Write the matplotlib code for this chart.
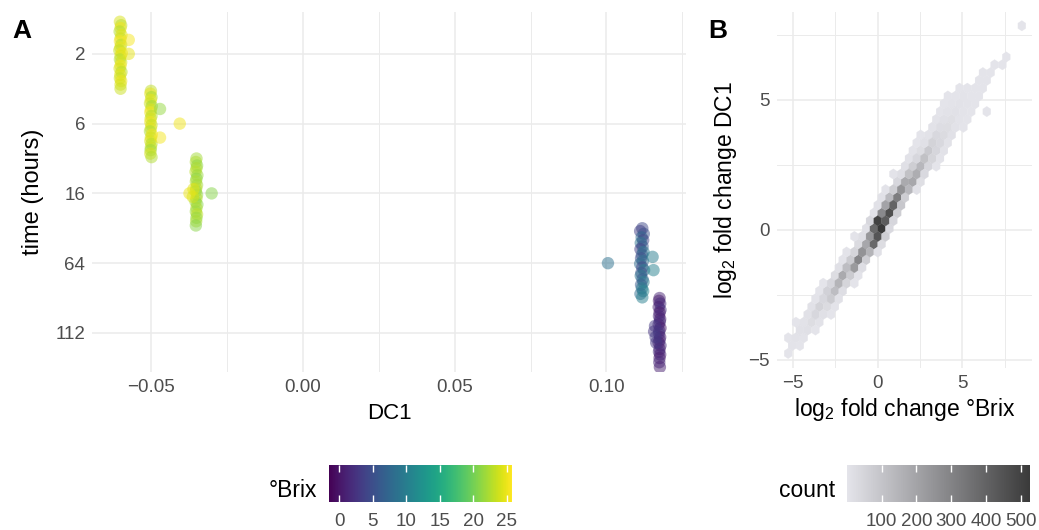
import numpy as np
import matplotlib
matplotlib.use('Agg')
import matplotlib.pyplot as plt
from matplotlib.colors import Normalize, LinearSegmentedColormap
from matplotlib.cm import ScalarMappable

plt.rcParams['font.family'] = ['Liberation Sans', 'DejaVu Sans']
plt.rcParams['mathtext.fontset'] = 'custom'
plt.rcParams['mathtext.rm'] = 'Liberation Sans'

# ---- panel A data: DC1 per sample, grouped by time point ----
time_levels = ['2', '6', '16', '64', '112']

pt_time = (['2'] * 24 + ['6'] * 25 + ['16'] * 25 + ['64'] * 27 + ['112'] * 27)
pt_dc1 = [
    # 2 h
    -0.0602, -0.0598, -0.0600, -0.0603, -0.0597, -0.0600, -0.0602, -0.0598,
    -0.0601, -0.0604, -0.0596, -0.0600, -0.0602, -0.0598, -0.0600, -0.0603,
    -0.0597, -0.0601, -0.0602, -0.0598, -0.0600, -0.0600, -0.0573, -0.0573,
    # 6 h
    -0.0500, -0.0502, -0.0498, -0.0500, -0.0503, -0.0497, -0.0500, -0.0502,
    -0.0498, -0.0501, -0.0502, -0.0498, -0.0500, -0.0503, -0.0497, -0.0500,
    -0.0502, -0.0498, -0.0500, -0.0501, -0.0502, -0.0498, -0.0470, -0.0405,
    -0.0470,
    # 16 h
    -0.0350, -0.0352, -0.0348, -0.0350, -0.0353, -0.0347, -0.0350, -0.0352,
    -0.0348, -0.0351, -0.0352, -0.0348, -0.0350, -0.0353, -0.0347, -0.0350,
    -0.0352, -0.0348, -0.0350, -0.0351, -0.0352, -0.0360, -0.0362, -0.0373,
    -0.0300,
    # 64 h
    0.1118, 0.1111, 0.1123, 0.1116, 0.1121, 0.1113, 0.1119, 0.1112, 0.1122,
    0.1117, 0.1114, 0.1120, 0.1111, 0.1118, 0.1124, 0.1115, 0.1113, 0.1119,
    0.1122, 0.1114, 0.1117, 0.1121, 0.1112, 0.1118, 0.1005, 0.1152, 0.1155,
    # 112 h
    0.1175, 0.1173, 0.1177, 0.1172, 0.1178, 0.1175, 0.1173, 0.1177, 0.1176,
    0.1172, 0.1178, 0.1174, 0.1173, 0.1177, 0.1175, 0.1172, 0.1178, 0.1175,
    0.1173, 0.1177, 0.1175, 0.1174, 0.1176, 0.1160, 0.1157, 0.1162, 0.1164,
]
pt_jitter = [
    # 2 h
    -0.46, -0.41, -0.37, -0.32, -0.27, -0.22, -0.18, -0.13, -0.09, -0.05,
    -0.01, 0.03, 0.08, 0.12, 0.17, 0.21, 0.26, 0.30, 0.35, 0.39, 0.44, 0.50,
    -0.20, 0.00,
    # 6 h
    -0.47, -0.43, -0.38, -0.34, -0.29, -0.25, -0.20, -0.16, -0.11, -0.07,
    -0.02, 0.02, 0.07, 0.11, 0.16, 0.20, 0.25, 0.29, 0.34, 0.38, 0.43, 0.48,
    -0.21, 0.00, 0.20,
    # 16 h
    -0.50, -0.45, -0.40, -0.36, -0.31, -0.26, -0.21, -0.17, -0.12, -0.07,
    -0.03, 0.02, 0.07, 0.12, 0.16, 0.21, 0.26, 0.30, 0.35, 0.40, 0.46,
    -0.06, 0.05, 0.00, 0.00,
    # 64 h
    -0.50, -0.46, -0.42, -0.37, -0.33, -0.29, -0.24, -0.20, -0.16, -0.12,
    -0.07, -0.03, 0.01, 0.06, 0.10, 0.14, 0.18, 0.23, 0.27, 0.31, 0.36,
    0.40, 0.44, 0.49, 0.00, -0.09, 0.10,
    # 112 h
    -0.50, -0.46, -0.42, -0.37, -0.33, -0.29, -0.24, -0.20, -0.16, -0.12,
    -0.07, -0.03, 0.01, 0.06, 0.10, 0.14, 0.18, 0.23, 0.27, 0.31, 0.36,
    0.42, 0.49, -0.10, -0.02, 0.06, 0.14,
]
pt_brix = [
    # 2 h
    24.1, 23.0, 25.2, 22.5, 24.6, 23.8, 25.5, 22.8, 24.9, 23.3, 25.1, 24.4,
    22.6, 23.9, 25.3, 24.0, 22.9, 24.7, 23.5, 25.0, 24.2, 23.6, 25.4, 24.8,
    # 6 h
    23.2, 24.8, 22.1, 25.0, 23.7, 21.9, 24.5, 25.3, 22.7, 24.0, 25.1, 23.4,
    24.6, 22.3, 25.2, 23.9, 24.3, 22.8, 23.6, 21.8, 24.1, 22.5, 21.5, 25.2,
    25.3,
    # 16 h
    22.0, 22.6, 21.3, 22.4, 23.0, 21.7, 21.2, 22.5, 22.1, 23.2, 21.6, 21.4,
    22.8, 22.0, 21.1, 22.6, 21.8, 23.1, 21.5, 22.3, 21.0, 24.6, 24.0, 25.0,
    20.8,
    # 64 h
    4.5, 3.8, 5.2, 7.5, 4.0, 8.8, 5.8, 3.6, 9.2, 6.5, 4.8, 8.2, 7.8, 4.2,
    9.5, 5.1, 8.9, 6.3, 10.0, 6.2, 9.5, 10.8, 8.1, 10.2, 8.6, 10.0, 10.4,
    # 112 h
    1.2, 0.4, 1.8, 0.9, 2.3, 0.1, 1.5, 0.7, 2.0, 1.1, 0.3, 1.7, 2.5, 0.8, 1.3,
    0.2, 1.9, 0.6, 2.2, 1.0, 0.5, 1.6, 0.9, 3.0, 2.6, 3.2, 2.8,
]

# ---- panel B data: hexbin cells (log2 FC Brix, log2 FC DC1, gene count) ----
hex_brix = [
    -5.29,
    -5.06, -4.60,
    -5.29, -4.83, -4.37,
    -4.60, -4.14, -3.68,
    -4.83, -4.37, -3.91, -3.45,
    -4.14, -3.68, -3.22, -2.76,
    -3.91, -3.45, -2.99, -2.53,
    -3.68, -3.22, -2.76, -2.30,
    -3.45, -2.99, -2.53, -2.07,
    -3.22, -2.76, -2.30, -1.84, -1.38,
    -2.53, -2.07, -1.61, -1.15,
    -2.30, -1.84, -1.38, -0.92,
    -2.07, -1.61, -1.15, -0.69,
    -1.84, -1.38, -0.92, -0.46, 0.00,
    -1.15, -0.69, -0.23, 0.23,
    -1.38, -0.92, -0.46, 0.00, 0.46,
    -0.69, -0.23, 0.23, 0.69,
    -0.46, 0.00, 0.46, 0.92,
    -0.23, 0.23, 0.69, 1.15,
    0.00, 0.46, 0.92, 1.38,
    0.23, 0.69, 1.15, 1.61,
    0.46, 0.92, 1.38, 1.84, 2.30,
    1.15, 1.61, 2.07, 2.53,
    0.92, 1.38, 1.84, 2.30, 2.76,
    1.61, 2.07, 2.53, 2.99, 3.45,
    1.84, 2.30, 2.76, 3.22, 3.68,
    2.07, 2.53, 2.99, 3.45, 3.91,
    2.30, 2.76, 3.22, 3.68, 4.14,
    2.53, 2.99, 3.45, 3.91, 4.37,
    3.22, 3.68, 4.14, 4.60, 5.06,
    3.45, 3.91, 4.37, 4.83, 5.29,
    3.68, 4.14, 4.60, 5.06, 5.52, 6.44,
    3.91, 4.37, 4.83, 5.29, 5.75,
    4.14, 4.60, 5.06, 5.52, 5.98,
    4.83, 5.29, 5.75, 6.21,
    5.98, 6.44,
    6.21, 6.67,
    6.90, 7.36,
    7.59,
    8.51,
]
hex_dc1 = [
    -4.75,
    -4.45, -4.45,
    -4.15, -4.15, -4.15,
    -3.85, -3.85, -3.85,
    -3.55, -3.55, -3.55, -3.55,
    -3.25, -3.25, -3.25, -3.25,
    -2.95, -2.95, -2.95, -2.95,
    -2.65, -2.65, -2.65, -2.65,
    -2.35, -2.35, -2.35, -2.35,
    -2.05, -2.05, -2.05, -2.05, -2.05,
    -1.75, -1.75, -1.75, -1.75,
    -1.45, -1.45, -1.45, -1.45,
    -1.15, -1.15, -1.15, -1.15,
    -0.85, -0.85, -0.85, -0.85, -0.85,
    -0.55, -0.55, -0.55, -0.55,
    -0.25, -0.25, -0.25, -0.25, -0.25,
    0.05, 0.05, 0.05, 0.05,
    0.35, 0.35, 0.35, 0.35,
    0.65, 0.65, 0.65, 0.65,
    0.95, 0.95, 0.95, 0.95,
    1.25, 1.25, 1.25, 1.25,
    1.55, 1.55, 1.55, 1.55, 1.55,
    1.85, 1.85, 1.85, 1.85,
    2.15, 2.15, 2.15, 2.15, 2.15,
    2.45, 2.45, 2.45, 2.45, 2.45,
    2.75, 2.75, 2.75, 2.75, 2.75,
    3.05, 3.05, 3.05, 3.05, 3.05,
    3.35, 3.35, 3.35, 3.35, 3.35,
    3.65, 3.65, 3.65, 3.65, 3.65,
    3.95, 3.95, 3.95, 3.95, 3.95,
    4.25, 4.25, 4.25, 4.25, 4.25,
    4.55, 4.55, 4.55, 4.55, 4.55, 4.55,
    4.85, 4.85, 4.85, 4.85, 4.85,
    5.15, 5.15, 5.15, 5.15, 5.15,
    5.45, 5.45, 5.45, 5.45,
    5.75, 5.75,
    6.05, 6.05,
    6.35, 6.35,
    6.65,
    7.85,
]
hex_count = [
    3,
    5, 3,
    1, 8, 4,
    12, 14, 3,
    2, 8, 25, 8,
    10, 40, 15, 2,
    10, 55, 30, 4,
    4, 40, 80, 12,
    3, 60, 120, 20,
    3, 45, 150, 50, 3,
    25, 180, 80, 6,
    15, 120, 230, 20,
    6, 80, 290, 70,
    5, 50, 250, 150, 12,
    30, 190, 380, 25,
    5, 20, 240, 440, 70,
    15, 380, 525, 35,
    40, 500, 420, 45,
    8, 280, 460, 70,
    10, 200, 400, 90,
    12, 130, 320, 70,
    6, 70, 250, 140, 12,
    40, 180, 190, 18,
    4, 20, 110, 170, 35,
    15, 70, 140, 45, 3,
    8, 40, 110, 50, 6,
    4, 25, 85, 45, 8,
    3, 15, 55, 38, 8,
    2, 8, 38, 30, 10,
    8, 22, 25, 8, 2,
    4, 14, 18, 7, 2,
    3, 8, 12, 6, 2, 1,
    2, 5, 8, 4, 1,
    1, 3, 5, 3, 1,
    1, 1, 2, 1,
    1, 1,
    1, 2,
    1, 1,
    1,
    1,
]

grid_col = '#ebebeb'
tick_col = '#4d4d4d'


def style_axes(ax):
    for s in ax.spines.values():
        s.set_visible(False)
    ax.set_axisbelow(True)
    ax.tick_params(length=0, labelsize=13.5, labelcolor=tick_col, pad=5)
    ax.grid(which='major', color=grid_col, linewidth=1.1)
    ax.grid(which='minor', color=grid_col, linewidth=0.7)


fig = plt.figure(figsize=(10.39, 5.30), dpi=100)

# ---- panel A ----
axA = fig.add_axes([92 / 1039, 1 - 372 / 530, 594 / 1039, 360 / 530])
style_axes(axA)
pt_y = [time_levels.index(t) + j for t, j in zip(pt_time, pt_jitter)]
brix_norm = Normalize(vmin=-1.5, vmax=25.8)
axA.scatter(pt_dc1, pt_y, c=pt_brix, cmap='viridis', norm=brix_norm,
            s=80, alpha=0.5, linewidths=0)
axA.set_xlim(-0.0694, 0.1262)
axA.set_ylim(4.56, -0.6)
axA.set_xticks([-0.05, 0.0, 0.05, 0.10])
axA.set_xticklabels(['\u22120.05', '0.00', '0.05', '0.10'])
axA.set_xticks([-0.025, 0.025, 0.075, 0.125], minor=True)
axA.set_yticks(range(len(time_levels)))
axA.set_yticklabels(time_levels)
axA.tick_params(which='minor', length=0)
axA.set_xlabel('DC1', fontsize=16, labelpad=5)
axA.set_ylabel('time (hours)', fontsize=17, labelpad=8)
fig.text(12 / 1039, 1 - 38 / 530, 'A', fontsize=19, fontweight='bold')

# ---- panel B ----
axB = fig.add_axes([777 / 1039, 1 - 368 / 530, 255 / 1039, 356 / 530])
style_axes(axB)
count_cmap = LinearSegmentedColormap.from_list('grey_ramp', ['#e4e4ea', '#3a3a3a'])
count_norm = Normalize(vmin=1, vmax=525)
axB.hexbin(hex_brix, hex_dc1, C=hex_count, reduce_C_function=np.sum,
           gridsize=(33, 24), extent=(-6.21, 8.97, -5.35, 9.05),
           cmap=count_cmap, norm=count_norm, linewidths=0.2, edgecolors='face')
axB.set_xlim(-5.95, 9.11)
axB.set_ylim(-5.31, 8.38)
axB.set_xticks([-5, 0, 5])
axB.set_xticklabels(['\u22125', '0', '5'])
axB.set_yticks([-5, 0, 5])
axB.set_yticklabels(['\u22125', '0', '5'])
axB.set_xticks([-2.5, 2.5, 7.5], minor=True)
axB.set_yticks([-2.5, 2.5, 7.5], minor=True)
axB.tick_params(which='minor', length=0)
axB.set_xlabel(r'log$_\mathrm{2}$ fold change °Brix', fontsize=16.5, labelpad=3)
axB.set_ylabel(r'log$_\mathrm{2}$ fold change DC1', fontsize=16.5, labelpad=7)
fig.text(708 / 1039, 1 - 38 / 530, 'B', fontsize=19, fontweight='bold')


# ---- colour bars ----
def add_bar(rect, cmap, norm, ticks, title):
    cax = fig.add_axes(rect)
    cb = fig.colorbar(ScalarMappable(norm=norm, cmap=cmap), cax=cax,
                      orientation='horizontal')
    cb.outline.set_visible(False)
    cb.set_ticks(ticks)
    cb.set_ticklabels([str(t) for t in ticks])
    cax.tick_params(axis='x', direction='in', length=5, width=1, color='white',
                    top=True, bottom=True, labelsize=13.5, labelcolor=tick_col, pad=8)
    cax.text(-0.065, 0.0, title, transform=cax.transAxes, ha='right',
             va='bottom', fontsize=16.5)
    return cb


add_bar([329 / 1039, 1 - 502 / 530, 183 / 1039, 37 / 530], 'viridis',
        brix_norm, [0, 5, 10, 15, 20, 25], '°Brix')
add_bar([847 / 1039, 1 - 502 / 530, 183 / 1039, 37 / 530], count_cmap,
        count_norm, [100, 200, 300, 400, 500], 'count')

fig.savefig('out.png', dpi=100)
